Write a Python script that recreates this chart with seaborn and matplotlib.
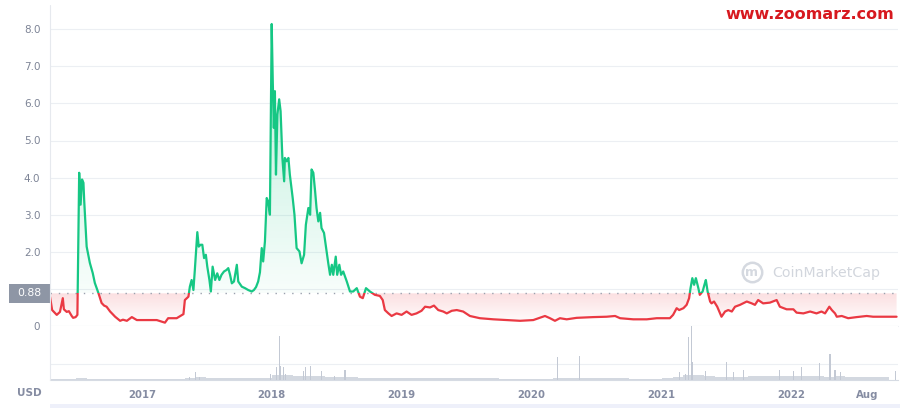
import matplotlib
matplotlib.use("Agg")
import matplotlib.pyplot as plt
import matplotlib.dates as mdates
from matplotlib.patches import Rectangle, PathPatch
from matplotlib.path import Path
from matplotlib.lines import Line2D
import numpy as np
import pandas as pd
import seaborn as sns

# price history (days counted from 2016-04-18, USD)
start = pd.Timestamp('2016-04-18')
day = [0, 6, 19, 28, 36, 39, 47, 53, 61, 65, 72, 77, 82, 86, 90, 94, 96, 103, 112, 120,
       126, 136, 145, 152, 159, 169, 183, 197, 205, 216, 230, 244, 272, 300, 323, 332, 356, 375,
       379, 389, 393, 398, 403, 407, 414, 418, 423, 428, 433, 438, 442, 448, 452, 457, 464, 470,
       476, 482, 489, 496, 501, 506, 511, 517, 525, 529, 539, 548, 557, 567, 573, 579, 585, 590,
       595, 599, 604, 609, 613, 618, 623, 626, 629, 632, 635, 639, 644, 648, 653, 658, 660, 665,
       670, 674, 682, 687, 693, 701, 707, 714, 719, 726, 731, 735, 740, 745, 749, 754, 759, 763,
       770, 776, 782, 787, 792, 796, 803, 807, 813, 818, 824, 834, 843, 852, 862, 871, 879, 888,
       899, 913, 927, 935, 941, 951, 960, 974, 988, 1002, 1016, 1030, 1044, 1054, 1068, 1079,
       1091, 1105, 1115, 1129, 1143, 1161, 1180, 1208, 1246, 1283, 1321, 1358, 1391, 1405, 1419,
       1433, 1452, 1480, 1527, 1564, 1588, 1602, 1639, 1677, 1705, 1742, 1751, 1761, 1768, 1780,
       1789, 1796, 1800, 1805, 1810, 1815, 1822, 1826, 1834, 1839, 1843, 1848, 1855, 1859, 1866,
       1875, 1887, 1897, 1906, 1916, 1925, 1939, 1958, 1972, 1981, 1990, 2004, 2023, 2042, 2051,
       2070, 2089, 2098, 2117, 2136, 2154, 2168, 2178, 2190, 2197, 2206, 2211, 2225, 2243, 2267,
       2295, 2313, 2351, 2379]
price = [0.79, 0.43, 0.30, 0.38, 0.75, 0.45, 0.38, 0.40, 0.27, 0.22, 0.24, 0.30, 4.13, 3.27, 3.95, 3.86, 3.40, 2.14, 1.70, 1.43,
         1.16, 0.89, 0.62, 0.55, 0.52, 0.39, 0.25, 0.14, 0.17, 0.14, 0.24, 0.16, 0.16, 0.16, 0.09, 0.21, 0.21, 0.32,
         0.70, 0.79, 1.06, 1.24, 0.97, 1.51, 2.53, 2.14, 2.19, 2.19, 1.83, 1.92, 1.60, 1.24, 0.93, 1.60, 1.24, 1.42,
         1.24, 1.38, 1.47, 1.51, 1.56, 1.38, 1.15, 1.20, 1.65, 1.20, 1.06, 1.02, 0.97, 0.93, 0.97, 1.05, 1.20, 1.45,
         2.10, 1.74, 2.28, 3.45, 3.36, 3.00, 8.14, 6.60, 5.34, 6.33, 4.08, 5.70, 6.11, 5.79, 4.53, 3.90, 4.53, 4.44,
         4.53, 4.08, 3.45, 3.00, 2.10, 2.01, 1.69, 1.92, 2.73, 3.18, 3.00, 4.22, 4.13, 3.63, 3.18, 2.82, 3.05, 2.64,
         2.51, 2.10, 1.69, 1.38, 1.65, 1.38, 1.87, 1.38, 1.65, 1.38, 1.47, 1.20, 0.93, 0.93, 1.02, 0.79, 0.75, 1.02,
         0.93, 0.84, 0.81, 0.70, 0.43, 0.34, 0.27, 0.34, 0.30, 0.39, 0.30, 0.34, 0.41, 0.52, 0.50, 0.55,
         0.43, 0.39, 0.34, 0.41, 0.43, 0.39, 0.27, 0.21, 0.18, 0.16, 0.14, 0.16, 0.27, 0.21, 0.14,
         0.21, 0.18, 0.22, 0.24, 0.25, 0.27, 0.21, 0.18, 0.18, 0.21, 0.21, 0.30, 0.48, 0.43, 0.48,
         0.57, 0.75, 1.02, 1.29, 1.11, 1.29, 1.02, 0.84, 0.93, 1.11, 1.24, 0.93, 0.66, 0.61, 0.66,
         0.52, 0.25, 0.39, 0.43, 0.39, 0.52, 0.57, 0.66, 0.61, 0.57, 0.70, 0.61, 0.63, 0.70, 0.52,
         0.45, 0.45, 0.36, 0.34, 0.39, 0.34, 0.39, 0.34, 0.52, 0.43, 0.34, 0.25, 0.27, 0.21, 0.24,
         0.27, 0.25, 0.25, 0.25]
ref_price = 0.88

# traded volume (millions USD, approx): monthly floor plus single-day spikes
vol_month = pd.date_range('2016-04-01', periods=79, freq='MS')
vol_base = [0.8, 0.8, 0.8, 1.2, 1.0, 0.8, 0.8, 0.8, 0.8,
            0.8, 0.8, 0.8, 1.0, 1.5, 2.5, 2.0, 1.5, 1.5, 1.5, 1.5, 2.0,
            5.0, 5.0, 3.5, 3.5, 3.5, 3.0, 2.5, 2.5, 2.0, 1.5, 1.5, 1.5,
            1.2, 1.2, 1.2, 1.5, 1.5, 1.5, 1.2, 1.2, 1.2, 1.0, 1.0, 1.0,
            1.0, 1.0, 1.5, 1.5, 1.5, 1.5, 1.2, 1.2, 1.2, 1.0, 1.0, 1.0,
            2.0, 3.0, 4.5, 5.0, 3.5, 3.0, 2.5, 3.0, 3.5, 3.5, 3.5, 3.5,
            3.5, 3.5, 3.5, 3.0, 4.0, 3.0, 2.5, 2.5, 2.5, 3.0]
spike_day = [393, 410, 421, 620, 637, 644, 649, 655, 663, 712, 719, 733, 762, 799, 829, 1426, 1487,
             1770, 1787, 1794, 1802, 1805, 1841, 1902, 1920, 1948, 2049, 2089, 2112, 2162, 2192,
             2206, 2222, 2377]
spike_vol = [3, 8, 3, 6, 13, 45, 14, 13, 6, 9, 13, 14, 9, 4, 10, 23, 24.5,
             8, 6, 44.5, 55, 17.7, 9, 17.7, 8, 10, 10, 9, 13, 17, 26,
             10, 8, 9]

tick_dates = ['2017-01-01', '2018-01-01', '2019-01-01', '2020-01-01', '2021-01-01', '2022-01-01', '2022-08-01']
tick_labels = ['2017', '2018', '2019', '2020', '2021', '2022', 'Aug']

GREEN = '#16c784'
RED = '#ea3943'
GREY = '#858ca2'

sns.set_style('white')
plt.rcParams['font.family'] = ['DejaVu Sans']

dates = start + pd.to_timedelta(day, unit='D')
df = pd.DataFrame({'date': dates, 'price': price})
spike_dates = start + pd.to_timedelta(spike_day, unit='D')

fig = plt.figure(figsize=(9, 4.08), dpi=100)
W, H = 900, 408
ax = fig.add_axes([50 / W, (H - 326) / H, 848 / W, 321 / H])
axv = fig.add_axes([50 / W, (H - 379.5) / H, 848 / W, 53.5 / H], sharex=ax)

x0 = mdates.date2num(start)
x1 = mdates.date2num(start + pd.Timedelta(days=2383))
ymax = 321 / 37.1

# price line, green above the reference price, red below
for col, rect in [(GREEN, (x0 - 50, ref_price, x1 - x0 + 100, 50)),
                  (RED, (x0 - 50, -10, x1 - x0 + 100, 10 + ref_price))]:
    sns.lineplot(data=df, x='date', y='price', ax=ax, color=col, lw=1.6, zorder=5)
    clip = Rectangle(rect[:2], rect[2], rect[3], transform=ax.transData)
    ax.lines[-1].set_clip_path(clip)

# gradient fills between the line and the reference price
xs = mdates.date2num(df['date'])
pr = np.array(price)
for above, col, lo, hi, a_lo, a_hi in [(True, GREEN, ref_price, 6.5, 0.03, 0.26),
                                       (False, RED, 0.0, ref_price, 0.0, 0.16)]:
    mask = pr >= ref_price if above else pr <= ref_price
    pc = ax.fill_between(xs, pr, ref_price, where=mask, interpolate=True, alpha=0)
    path = Path.make_compound_path(*pc.get_paths())
    pc.remove()
    grad = np.zeros((256, 1, 4))
    grad[..., :3] = matplotlib.colors.to_rgb(col)
    grad[:, 0, 3] = np.linspace(a_lo, a_hi, 256)
    im = ax.imshow(grad, extent=[x0, x1, lo, hi], origin='lower', aspect='auto', zorder=2)
    im.set_clip_path(PathPatch(path, transform=ax.transData))

ax.axhline(ref_price, color='#9aa1ae', lw=1, ls=(0, (1, 5)), zorder=4)
ax.axhline(0, color='#eceff3', lw=0.8, clip_on=False, zorder=1)

ax.set_xlim(x0, x1)
ax.set_ylim(0, ymax)
ax.set_yticks(range(9))
ax.set_yticklabels(['0', '', '2.0', '3.0', '4.0', '5.0', '6.0', '7.0', '8.0'])
ax.tick_params(axis='y', length=0, pad=7, labelsize=7.5, labelcolor='#7d8496')
ax.tick_params(axis='x', bottom=False, labelbottom=False)
ax.grid(axis='y', color='#eceff3', lw=0.8)
ax.set_axisbelow(True)
ax.set_xlabel('')
ax.set_ylabel('')
for s in ax.spines.values():
    s.set_visible(False)

# volume panel
axv.fill_between(vol_month, vol_base, step='post', color='#d3d8e0', lw=0, zorder=2)
axv.bar(spike_dates, spike_vol, width=3.0, color='#c3c9d4', lw=0, zorder=3)
axv.axhline(16.5, color='#eceff3', lw=0.8, zorder=1)
axv.set_ylim(0, 55.5)
axv.set_yticks([])
axv.set_xticks(mdates.date2num(pd.to_datetime(tick_dates)))
axv.set_xticklabels(tick_labels)
axv.tick_params(axis='x', length=3, color='#cfd6e4', pad=4.5, labelsize=7.3, labelcolor=GREY)
for lab in axv.get_xticklabels():
    lab.set_fontweight('bold')
for k in ['top', 'right', 'left']:
    axv.spines[k].set_visible(False)
axv.spines['bottom'].set_color('#d6dbe3')
axv.spines['bottom'].set_linewidth(0.8)
axv.set_xlim(x0, x1)

# left rule, value badge and labels
fig.add_artist(Line2D([50 / W, 50 / W], [1 - 5 / H, 1 - 379.5 / H], color='#e6e9ee', lw=0.8))
fig.add_artist(Rectangle((9 / W, 1 - 303 / H), 41 / W, 19 / H, color='#8e96a5', lw=0))
fig.text(29.5 / W, 1 - 293.5 / H, '0.88', color='white', fontsize=7.8, ha='center', va='center')
fig.text(29 / W, 1 - 392.5 / H, 'USD', color=GREY, fontsize=7.5, fontweight='bold', ha='center', va='center')
fig.text(810 / W, 1 - 14.5 / H, 'www.zoomarz.com', color='#d7191f', fontsize=11.5, fontweight='bold',
         ha='center', va='center')

# CoinMarketCap watermark
fig.add_artist(Line2D([752 / W], [1 - 272 / H], marker='o', markersize=14, markerfacecolor='none',
                      markeredgecolor='#d5d9e0', markeredgewidth=1.8, transform=fig.transFigure))
fig.text(752 / W, 1 - 272 / H, 'm', color='#d5d9e0', fontsize=9, fontweight='bold', ha='center', va='center')
fig.text(826 / W, 1 - 273 / H, 'CoinMarketCap', color='#d2d6dd', fontsize=10.2, ha='center', va='center')

# navigator strip at the bottom
fig.add_artist(Rectangle((50 / W, 0), 850 / W, 4 / H, color='#eef0fa', lw=0))

fig.savefig('out.png', dpi=100)
